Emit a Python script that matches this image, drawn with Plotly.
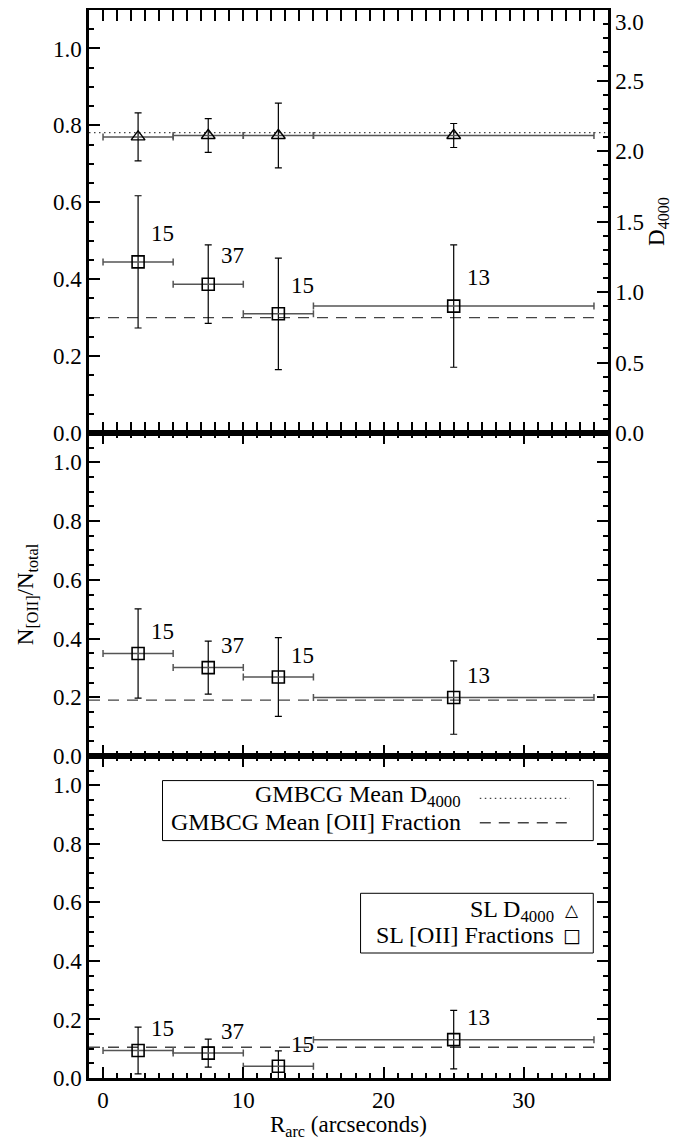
import plotly.graph_objects as go

# ---------------- data ----------------
r_mid = [2.5, 7.5, 12.5, 25.0]          # bin centres (arcsec)
r_half = [2.5, 2.5, 2.5, 10.0]          # bin half-widths
n_counts = [15, 37, 15, 13]

d4000 = [2.10, 2.11, 2.11, 2.11]
d4000_err = [0.17, 0.12, 0.23, 0.085]
gmbcg_d4000 = 2.13

frac_top = [0.445, 0.387, 0.310, 0.330]
frac_top_err = [0.172, 0.102, 0.145, 0.159]
gmbcg_frac_top = 0.30

frac_mid = [0.349, 0.301, 0.269, 0.199]
frac_mid_err = [0.152, 0.090, 0.134, 0.125]
gmbcg_frac_mid = 0.19

frac_bot = [0.094, 0.085, 0.040, 0.131]
frac_bot_err = [0.080, 0.048, 0.053, 0.100]
gmbcg_frac_bot = 0.105

mean_line_x = [-1, 35]
x_range = [-1, 36]
y_range = [0, 1.1]
d_range = [0, 3.0]
y_ticks = [0.0, 0.2, 0.4, 0.6, 0.8, 1.0]
d_ticks = [0.0, 0.5, 1.0, 1.5, 2.0, 2.5, 3.0]
d_tick_text = ["0.0", "0.5", "1.0", "1.5", "2.0", "2.5", ""]   # top label drawn separately
d_top_label = "3.0"
x_ticks = [0, 10, 20, 30]

FONT = "Liberation Serif, Times New Roman, serif"
FS = 23
FS_LEG = 24
BAR_GREY = "#555555"

fig = go.Figure()

def frac_panel(xa, ya, vals, errs, mean):
    fig.add_trace(go.Scatter(
        x=mean_line_x, y=[mean, mean], mode="lines", xaxis=xa, yaxis=ya,
        line=dict(color="#444444", width=1.3, dash="11px,8px"), showlegend=False,
        hoverinfo="skip"))
    fig.add_trace(go.Scatter(
        x=r_mid, y=vals, mode="markers", xaxis=xa, yaxis=ya,
        marker=dict(symbol="square-open", size=12, color="black", line=dict(width=1.6)),
        error_x=dict(type="data", array=r_half, color=BAR_GREY, thickness=1.5, width=3.5),
        error_y=dict(type="data", array=errs, color="black", thickness=1.2, width=3.5),
        showlegend=False))
    for xv, yv, n in zip(r_mid, vals, n_counts):
        fig.add_annotation(x=xv + 1.75, y=yv + 0.074, xref=xa, yref=ya, text=str(n),
                           showarrow=False, xanchor="center", yanchor="middle",
                           font=dict(family=FONT, size=FS, color="black"))

# panel 1 (top): D4000 on right axis + fractions
fig.add_trace(go.Scatter(
    x=[-1, 35.8], y=[gmbcg_d4000, gmbcg_d4000], mode="lines", xaxis="x3", yaxis="y4",
    line=dict(color="#444444", width=1.3, dash="1.5px,3.5px"), showlegend=False,
    hoverinfo="skip"))
fig.add_trace(go.Scatter(
    x=r_mid, y=d4000, mode="markers", xaxis="x3", yaxis="y4",
    marker=dict(symbol="triangle-up-open", size=12, color="black", line=dict(width=1.4)),
    error_x=dict(type="data", array=r_half, color=BAR_GREY, thickness=1.5, width=3.5),
    error_y=dict(type="data", array=d4000_err, color="black", thickness=1.2, width=3.5),
    showlegend=False))
frac_panel("x3", "y3", frac_top, frac_top_err, gmbcg_frac_top)
frac_panel("x2", "y2", frac_mid, frac_mid_err, gmbcg_frac_mid)
frac_panel("x", "y", frac_bot, frac_bot_err, gmbcg_frac_bot)

# -------- layout --------
H_TOTAL = 1068.0
d3 = [0, 322 / H_TOTAL]
d2 = [322 / H_TOTAL, 645 / H_TOTAL]
d1 = [645 / H_TOTAL, 1.0]

tickfont = dict(family=FONT, size=FS, color="black")

def xaxis_cfg(anchor, labels):
    return dict(range=x_range, anchor=anchor, tickvals=x_ticks, showticklabels=labels,
                ticks="inside", ticklen=11, tickwidth=2, tickcolor="black",
                minor=dict(ticks="inside", dtick=1, tick0=0, ticklen=5, tickwidth=2, tickcolor="black"),
                showline=True, linewidth=2.5, linecolor="black", mirror="allticks",
                showgrid=False, zeroline=False, tickfont=tickfont, automargin=False)

def yaxis_cfg(domain, mirror=True):
    return dict(range=y_range, domain=domain, tickvals=y_ticks, tickformat=".1f",
                ticks="inside", ticklen=11, tickwidth=2, tickcolor="black",
                minor=dict(ticks="inside", dtick=0.05, tick0=0, ticklen=5, tickwidth=2, tickcolor="black"),
                showline=True, linewidth=2.5, linecolor="black",
                mirror="allticks" if mirror else False,
                showgrid=False, zeroline=False, tickfont=tickfont, automargin=False)

# page body has an 8px default margin: size the figure so it fits the window
fig.update_layout(
    width=691, height=1132,
    margin=dict(l=81, r=91, t=2, b=62),
    paper_bgcolor="white", plot_bgcolor="white",
    font=dict(family=FONT, size=FS, color="black"),
    xaxis=dict(**xaxis_cfg("y", True),
               title=dict(text="R<sub>arc</sub> (arcseconds)", standoff=0,
                          font=dict(family=FONT, size=FS, color="black"))),
    xaxis2=dict(**xaxis_cfg("y2", False), matches="x"),
    xaxis3=dict(**xaxis_cfg("y3", False), matches="x"),
    yaxis=dict(**yaxis_cfg(d3)),
    yaxis2=dict(**yaxis_cfg(d2),
                title=dict(text="N<sub>[OII]</sub>/N<sub>total</sub>", standoff=13,
                           font=dict(family=FONT, size=FS, color="black"))),
    yaxis3=dict(**yaxis_cfg(d1, mirror=False)),
    yaxis4=dict(range=d_range, overlaying="y3", anchor="x3", side="right",
                tickvals=d_ticks, ticktext=d_tick_text,
                ticks="inside", ticklen=11, tickwidth=2, tickcolor="black",
                minor=dict(ticks="inside", dtick=0.1, tick0=0, ticklen=5, tickwidth=2, tickcolor="black"),
                showline=True, linewidth=2.5, linecolor="black",
                showgrid=False, zeroline=False, tickfont=tickfont, automargin=False,
                title=dict(text="D<sub>4000</sub>", standoff=0,
                           font=dict(family=FONT, size=FS, color="black"))),
)

fig.add_annotation(x=1, y=1, xref="paper", yref="paper", text=d_top_label, showarrow=False,
                   xanchor="left", yanchor="top", xshift=5, yshift=2,
                   font=dict(family=FONT, size=FS, color="black"))

# -------- legend boxes (panel 3) --------
box_line = dict(color="black", width=1)
fig.add_shape(type="rect", xref="x", yref="y", x0=4.24, x1=34.95, y0=0.811, y1=1.016,
              line=box_line, fillcolor="white", layer="below")
fig.add_shape(type="rect", xref="x", yref="y", x0=18.36, x1=34.95, y0=0.427, y1=0.631,
              line=box_line, fillcolor="white", layer="below")
fig.add_annotation(x=25.64, y=0.962, xref="x", yref="y", text="GMBCG Mean D<sub>4000</sub>",
                   showarrow=False, xanchor="right", yanchor="middle",
                   font=dict(family=FONT, size=FS_LEG, color="black"))
fig.add_annotation(x=25.64, y=0.876, xref="x", yref="y", text="GMBCG Mean [OII] Fraction",
                   showarrow=False, xanchor="right", yanchor="middle",
                   font=dict(family=FONT, size=FS_LEG, color="black"))
fig.add_shape(type="line", xref="x", yref="y", x0=26.86, x1=33.29, y0=0.955, y1=0.955,
              line=dict(color="#444444", width=1.3, dash="1.5px,3.5px"))
fig.add_shape(type="line", xref="x", yref="y", x0=26.86, x1=33.29, y0=0.872, y1=0.872,
              line=dict(color="#444444", width=1.3, dash="11px,8px"))
fig.add_annotation(x=32.3, y=0.569, xref="x", yref="y", text="SL D<sub>4000</sub>",
                   showarrow=False, xanchor="right", yanchor="middle",
                   font=dict(family=FONT, size=FS_LEG, color="black"))
fig.add_annotation(x=32.3, y=0.489, xref="x", yref="y", text="SL [OII] Fractions",
                   showarrow=False, xanchor="right", yanchor="middle",
                   font=dict(family=FONT, size=FS_LEG, color="black"))
fig.add_annotation(x=33.4, y=0.575, xref="x", yref="y", text="\u25b3",
                   showarrow=False, xanchor="center", yanchor="middle",
                   font=dict(family="DejaVu Sans", size=17, color="black"))
fig.add_annotation(x=33.4, y=0.489, xref="x", yref="y", text="\u25a1",
                   showarrow=False, xanchor="center", yanchor="middle",
                   font=dict(family="DejaVu Sans", size=19, color="black"))

fig.write_html("out.html")
